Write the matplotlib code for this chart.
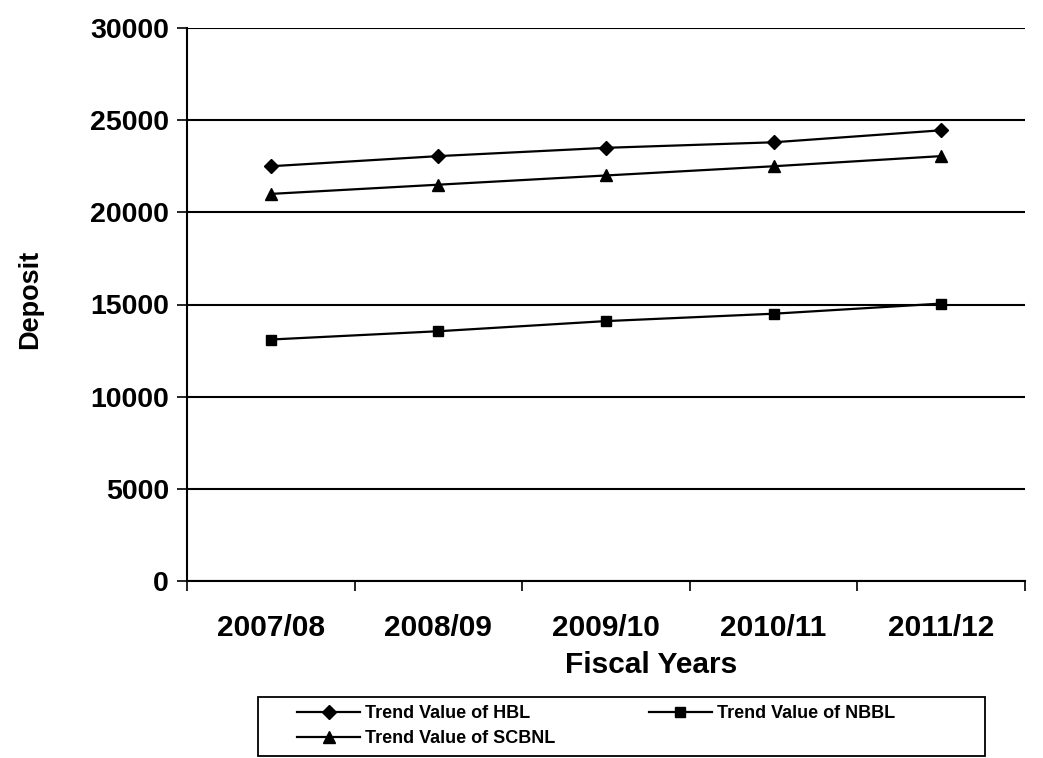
import numpy as np
import matplotlib
matplotlib.use("Agg")
import matplotlib.pyplot as plt
from matplotlib.patches import Rectangle

plt.rcParams['font.family'] = ['Liberation Sans', 'DejaVu Sans']
plt.rcParams['font.weight'] = 'bold'

# trend values of deposits by fiscal year
years = ['2007/08', '2008/09', '2009/10', '2010/11', '2011/12']
hbl = [22500, 23050, 23500, 23800, 24450]
nbbl = [13100, 13550, 14100, 14500, 15050]
scbnl = [21000, 21500, 22000, 22500, 23050]

W, H = 1043, 758
fig = plt.figure(figsize=(W / 100, H / 100), dpi=100)
ax = fig.add_axes([187 / W, 1 - 581 / H, (1025 - 187) / W, (581 - 28) / H])

x = np.arange(len(years))
l_hbl, = ax.plot(x, hbl, color='black', lw=1.6, marker='D', ms=7, label='Trend Value of HBL')
l_nbbl, = ax.plot(x, nbbl, color='black', lw=1.6, marker='s', ms=7, label='Trend Value of NBBL')
l_scb, = ax.plot(x, scbnl, color='black', lw=1.6, marker='^', ms=9, label='Trend Value of SCBNL')

ax.set_xlim(-0.5, len(years) - 0.5)
ax.set_ylim(0, 30000)
ax.set_yticks(np.arange(0, 30001, 5000))
ax.yaxis.grid(True, color='black', lw=1.5)
ax.set_axisbelow(True)

# category labels centred, tick marks between categories
ax.set_xticks(x)
ax.set_xticklabels(years, fontsize=21.5, fontweight='bold')
ax.set_xticks(np.arange(-0.5, len(years)), minor=True)
ax.tick_params(axis='x', which='major', length=0, pad=24)
ax.tick_params(axis='x', which='minor', length=7, width=1.2, direction='out')
ax.tick_params(axis='y', length=7, width=1.2, labelsize=20.5, pad=6)
for lbl in ax.get_yticklabels():
    lbl.set_fontweight('bold')

for side in ['top', 'right']:
    ax.spines[side].set_visible(False)
ax.spines['left'].set_linewidth(1.5)
ax.spines['bottom'].set_linewidth(1.5)

ax.set_xlabel('Fiscal Years', fontsize=21.5, fontweight='bold')
ax.xaxis.set_label_coords((651 - 187) / (1025 - 187), -0.127)
ax.set_ylabel('Deposit', fontsize=19.5, fontweight='bold')
ax.yaxis.set_label_coords(-(187 - 43) / (1025 - 187), 0.51)

# legend box below the chart, filled row by row
fig.patches.append(Rectangle((258 / W, 1 - 756 / H), 727 / W, 59 / H,
                             transform=fig.transFigure, fill=False,
                             edgecolor='black', lw=1.3))
leg = fig.legend([l_hbl, l_scb, l_nbbl],
                 [l_hbl.get_label(), l_scb.get_label(), l_nbbl.get_label()],
                 loc='upper left', bbox_to_anchor=(297 / W, 1 - 705 / H),
                 ncol=2, frameon=False, borderpad=0, borderaxespad=0,
                 handlelength=3.5, handletextpad=0.25, columnspacing=5.2,
                 labelspacing=0.45, prop={'weight': 'bold', 'size': 13})

fig.savefig('out.png', dpi=100)
